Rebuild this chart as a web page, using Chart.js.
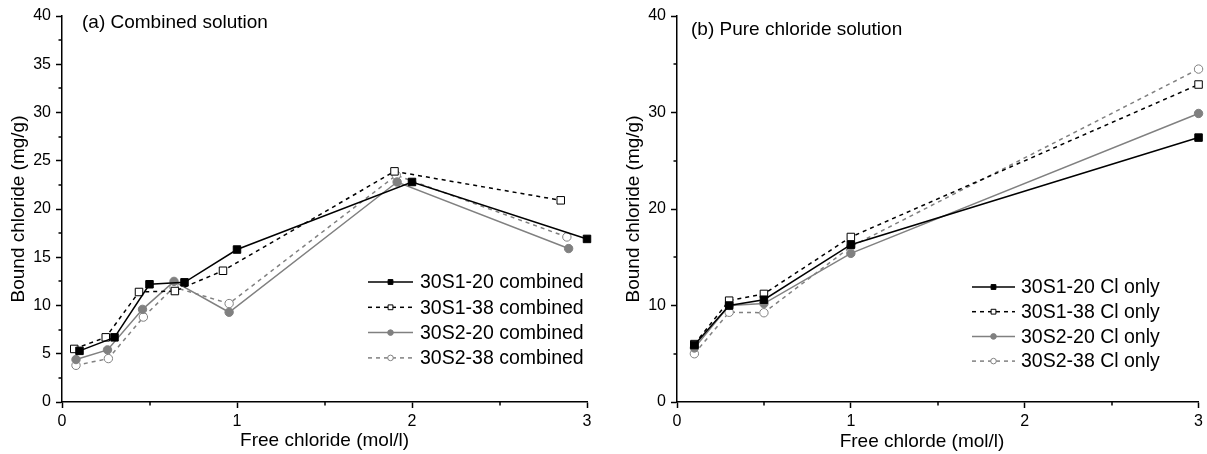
<!DOCTYPE html>
<html><head><meta charset="utf-8">
<script src="https://cdn.jsdelivr.net/npm/chart.js@4.4.1/dist/chart.umd.min.js"></script>
<style>
html,body{margin:0;padding:0;background:#fff;}
#wrap{position:relative;width:1207px;height:454px;overflow:hidden;}
#c1{position:absolute;left:0;top:0;}
#c2{position:absolute;left:600px;top:0;}
</style></head><body>
<div id="wrap"><canvas id="c1" width="600" height="454"></canvas><canvas id="c2" width="607" height="454"></canvas></div>
<script>
// ---------- Data: (a) Combined solution ----------
const combinedLabels = ['30S1-20 combined', '30S1-38 combined', '30S2-20 combined', '30S2-38 combined'];
const comb_S1_20_x = [0.10, 0.30, 0.50, 0.70, 1.00, 2.00, 3.00];
const comb_S1_20_y = [5.3, 6.7, 12.2, 12.4, 15.8, 22.8, 16.9];
const comb_S1_38_x = [0.07, 0.25, 0.44, 0.645, 0.92, 1.90, 2.85];
const comb_S1_38_y = [5.5, 6.7, 11.4, 11.5, 13.6, 23.9, 20.9];
const comb_S2_20_x = [0.08, 0.26, 0.46, 0.64, 0.955, 1.915, 2.895];
const comb_S2_20_y = [4.4, 5.4, 9.6, 12.5, 9.3, 22.8, 15.9];
const comb_S2_38_x = [0.08, 0.265, 0.465, 0.64, 0.955, 1.91, 2.885];
const comb_S2_38_y = [3.8, 4.5, 8.8, 11.9, 10.2, 23.5, 17.1];

// ---------- Data: (b) Pure chloride solution ----------
const pureLabels = ['30S1-20 Cl only', '30S1-38 Cl only', '30S2-20 Cl only', '30S2-38 Cl only'];
const pure_x = [0.1, 0.3, 0.5, 1.0, 3.0];
const pure_S1_20_y = [5.9, 10.0, 10.6, 16.3, 27.4];
const pure_S1_38_y = [6.0, 10.5, 11.2, 17.1, 32.9];
const pure_S2_20_y = [5.6, 10.0, 10.2, 15.4, 29.9];
const pure_S2_38_y = [5.0, 9.3, 9.25, 16.1, 34.5];

// ---------- Axis ticks / titles ----------
const xTicks = [0, 1, 2, 3];
const yTicksA = [0, 5, 10, 15, 20, 25, 30, 35, 40];
const yTicksB = [0, 10, 20, 30, 40];
const panelTitleA = '(a) Combined solution';
const panelTitleB = '(b) Pure chloride solution';
const xTitleA = 'Free chloride (mol/l)';
const xTitleB = 'Free chlorde (mol/l)';
const yTitle = 'Bound chloride (mg/g)';

const FONT = '"Liberation Sans", Arial, Helvetica, sans-serif';
Chart.defaults.font.family = FONT;
Chart.defaults.color = '#000';

const BLACK = '#000000', GRAY = '#808080';
const styles = [
  {color: BLACK, dash: [], point: 'rect', fill: BLACK, r: 5.3, lr: 3.4},
  {color: BLACK, dash: [4, 4], point: 'rect', fill: '#ffffff', r: 5.3, lr: 3.4},
  {color: GRAY, dash: [], point: 'circle', fill: GRAY, r: 4.2, lr: 2.8},
  {color: GRAY, dash: [4, 4], point: 'circle', fill: '#ffffff', r: 4.2, lr: 2.8}
];

function pts(xs, ys) { return xs.map((x, i) => ({x: x, y: ys[i]})); }
function makeDatasets(labels, series) {
  return series.map((d, i) => ({
    label: labels[i],
    data: pts(d[0], d[1]),
    borderColor: styles[i].color,
    borderWidth: 1.5,
    borderDash: styles[i].dash,
    pointStyle: styles[i].point,
    pointRadius: styles[i].r,
    pointBackgroundColor: styles[i].fill,
    pointBorderColor: styles[i].color,
    pointBorderWidth: 1,
    legendRadius: styles[i].lr,
    tension: 0,
    clip: false
  }));
}

const minorTicks = {
  id: 'minorTicks',
  afterDraw(chart) {
    const ctx = chart.ctx;
    const xs = chart.scales.x, ys = chart.scales.y;
    ctx.save();
    ctx.strokeStyle = '#000'; ctx.lineWidth = 1.5;
    const xStep = xs.options.ticks.stepSize, yStep = ys.options.ticks.stepSize;
    for (let v = xs.min + xStep / 2; v < xs.max; v += xStep) {
      const p = Math.round(xs.getPixelForValue(v));
      ctx.beginPath(); ctx.moveTo(p, ys.bottom); ctx.lineTo(p, ys.bottom + 3.5); ctx.stroke();
    }
    for (let v = ys.min + yStep / 2; v < ys.max; v += yStep) {
      const p = Math.round(ys.getPixelForValue(v));
      ctx.beginPath(); ctx.moveTo(xs.left, p); ctx.lineTo(xs.left - 3.5, p); ctx.stroke();
    }
    ctx.restore();
  }
};

const texts = {
  id: 'texts',
  afterDraw(chart, args, opts) {
    const ctx = chart.ctx;
    ctx.save();
    ctx.fillStyle = '#000';
    (opts.items || []).forEach(t => {
      ctx.save();
      ctx.font = t.font;
      ctx.textAlign = t.align || 'center';
      ctx.textBaseline = 'middle';
      ctx.translate(t.x, t.y);
      if (t.rot) ctx.rotate(t.rot);
      ctx.fillText(t.text, 0, 0);
      ctx.restore();
    });
    ctx.restore();
  }
};

const customLegend = {
  id: 'customLegend',
  afterDraw(chart, args, opts) {
    const ctx = chart.ctx;
    ctx.save();
    chart.data.datasets.forEach((ds, i) => {
      const y = opts.y0 + i * opts.dy;
      ctx.strokeStyle = ds.borderColor;
      ctx.lineWidth = ds.borderWidth;
      ctx.setLineDash(ds.borderDash);
      ctx.beginPath(); ctx.moveTo(opts.x0, y); ctx.lineTo(opts.x1, y); ctx.stroke();
      ctx.setLineDash([]);
      ctx.fillStyle = ds.pointBackgroundColor;
      ctx.strokeStyle = ds.pointBorderColor;
      ctx.lineWidth = 1;
      Chart.helpers.drawPoint(ctx, {pointStyle: ds.pointStyle, rotation: 0, radius: ds.legendRadius, borderWidth: 1}, (opts.x0 + opts.x1) / 2, y);
      ctx.fillStyle = '#000';
      ctx.font = opts.font;
      ctx.textAlign = 'left';
      ctx.textBaseline = 'middle';
      ctx.fillText(ds.label, opts.tx, y + 1);
    });
    ctx.restore();
  }
};

function makeChart(id, datasets, yTicks, yAxisWidth, padRight, textItems, legendOpts) {
  const yStep = yTicks[1] - yTicks[0];
  return new Chart(document.getElementById(id), {
    type: 'line',
    data: {datasets: datasets},
    options: {
      responsive: false,
      animation: false,
      devicePixelRatio: 1,
      layout: {padding: {top: 16, right: padRight, left: 0, bottom: 0}},
      scales: {
        x: {
          type: 'linear', min: xTicks[0], max: xTicks[xTicks.length - 1],
          ticks: {stepSize: xTicks[1] - xTicks[0], padding: 4, font: {size: 16}, color: '#000', maxRotation: 0},
          grid: {display: true, drawOnChartArea: false, drawTicks: true, tickLength: 6, tickColor: '#000', tickWidth: 1.5},
          border: {display: true, color: '#000', width: 1.5},
          afterFit: s => { s.height = 52; }
        },
        y: {
          type: 'linear', min: yTicks[0], max: yTicks[yTicks.length - 1],
          ticks: {stepSize: yStep, padding: 5, font: {size: 16}, color: '#000'},
          grid: {display: true, drawOnChartArea: false, drawTicks: true, tickLength: 6, tickColor: '#000', tickWidth: 1.5},
          border: {display: true, color: '#000', width: 1.5},
          afterFit: s => { s.width = yAxisWidth; }
        }
      },
      plugins: {
        legend: {display: false},
        tooltip: {enabled: false},
        texts: {items: textItems},
        customLegend: legendOpts
      }
    },
    plugins: [minorTicks, texts, customLegend]
  });
}

const titleFont = '19px ' + FONT;
const legendFont = '19.5px ' + FONT;

makeChart('c1',
  makeDatasets(combinedLabels, [[comb_S1_20_x, comb_S1_20_y], [comb_S1_38_x, comb_S1_38_y], [comb_S2_20_x, comb_S2_20_y], [comb_S2_38_x, comb_S2_38_y]]),
  yTicksA, 62, 13,
  [
    {text: panelTitleA, x: 82, y: 23, align: 'left', font: titleFont},
    {text: xTitleA, x: 324.5, y: 441, font: titleFont},
    {text: yTitle, x: 19, y: 209, rot: -Math.PI / 2, font: titleFont}
  ],
  {x0: 368, x1: 413, tx: 420, y0: 282, dy: 25.3, font: legendFont}
);

makeChart('c2',
  makeDatasets(pureLabels, [[pure_x, pure_S1_20_y], [pure_x, pure_S1_38_y], [pure_x, pure_S2_20_y], [pure_x, pure_S2_38_y]]),
  yTicksB, 77, 5,
  [
    {text: panelTitleB, x: 91, y: 30, align: 'left', font: titleFont},
    {text: xTitleB, x: 322, y: 442, font: titleFont},
    {text: yTitle, x: 34, y: 209, rot: -Math.PI / 2, font: titleFont}
  ],
  {x0: 372, x1: 415, tx: 421, y0: 287, dy: 24.7, font: legendFont}
);
</script>
</body></html>
